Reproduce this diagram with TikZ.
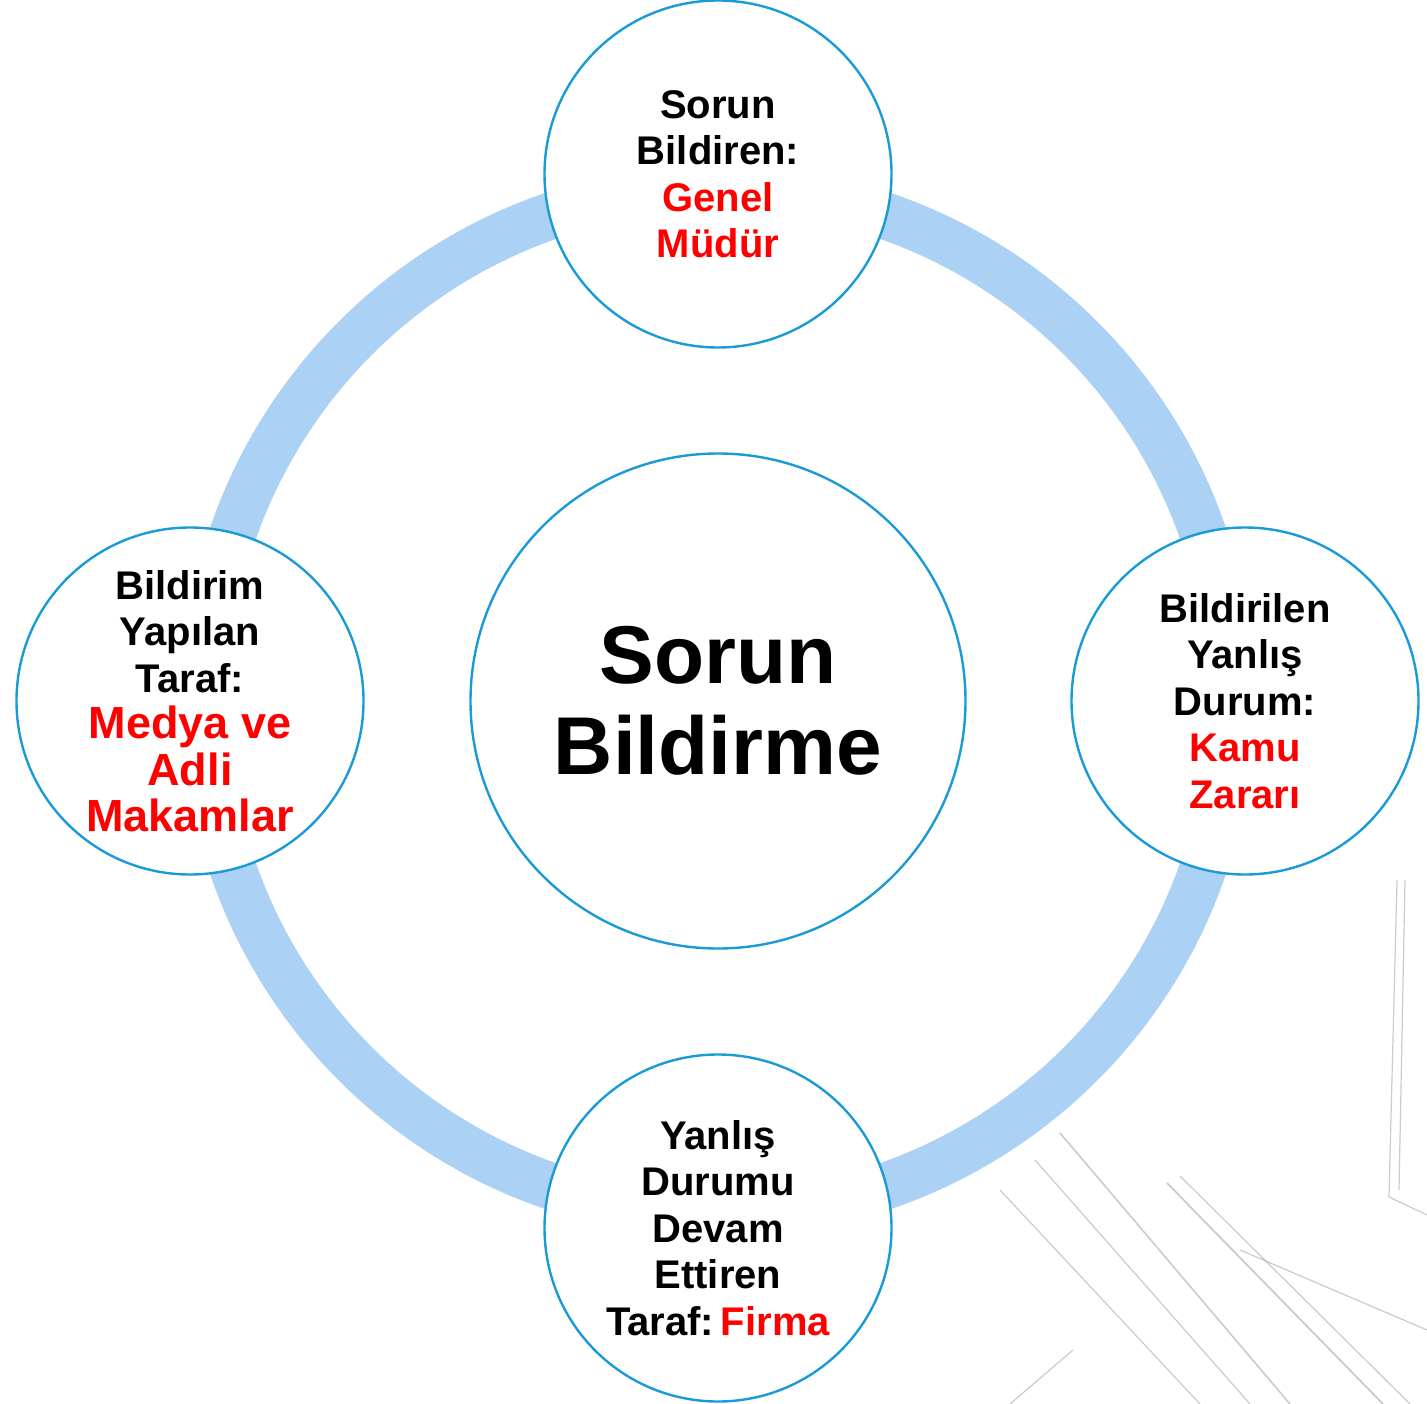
\documentclass[tikz,border=0pt]{standalone}
\usepackage{fontspec}
\setmainfont{Liberation Sans}
\definecolor{ringblue}{HTML}{ABD2F4}
\definecolor{edgeblue}{HTML}{1A9BD7}
\definecolor{txtred}{HTML}{FF0000}
\definecolor{sketch}{HTML}{A8A8A8}
\newcommand{\rd}[1]{\textcolor{txtred}{#1}}
\begin{document}
\begin{tikzpicture}[x=1pt,y=-1pt,
  ring/.style={draw=ringblue,line width=47pt},
  bubble/.style={circle,draw=edgeblue,line width=2.4pt,fill=white,inner sep=0pt,
    minimum size=347pt,align=center,font=\fontsize{40}{46.5}\selectfont\bfseries},
  hub/.style={circle,draw=edgeblue,line width=2.4pt,fill=white,inner sep=0pt,
    minimum size=495pt,align=center,font=\fontsize{82}{91}\selectfont\bfseries},
  sk/.style={draw=sketch,line width=1.2pt,opacity=0.6}]
\useasboundingbox (0,0) rectangle (1427,1404);
% faint background sketch
\draw[sk] (1397,880) -- (1389,1197) -- (1427,1215);
\draw[sk] (1405,880) -- (1399,1190);
\draw[sk,line width=1.8pt] (1167,1183) -- (1383,1404);
\draw[sk] (1180,1176) -- (1410,1404);
\draw[sk,line width=1.6pt] (1060,1133) -- (1290,1404);
\draw[sk] (1035,1160) -- (1250,1404);
\draw[sk] (1000,1190) -- (1200,1404);
\draw[sk] (1240,1250) -- (1427,1330);
\draw[sk] (1010,1404) -- (1073,1350);
% ring
\draw[ring] (718,701) circle (513pt);
% nodes
\node[hub] (hub) at (718,701) {Sorun\\Bildirme};
\node[bubble] (top) at (718,174) {Sorun\\Bildiren:\\\rd{Genel}\\\rd{Müdür}};
\node[bubble] (right) at (1245,701) {Bildirilen\\Yanlış\\Durum:\\\rd{Kamu}\\\rd{Zararı}};
\node[bubble] (bottom) at (718,1228) {Yanlış\\Durumu\\Devam\\Ettiren\\Taraf:\,\rd{Firma}};
\node[bubble] (left) at (190,701) {Bildirim\\Yapılan\\Taraf:\\\fontsize{45}{49}\selectfont\rd{Medya ve}\\\fontsize{45}{49}\selectfont\rd{Adli}\\\fontsize{45}{49}\selectfont\rd{Makamlar}};
\end{tikzpicture}
\end{document}
